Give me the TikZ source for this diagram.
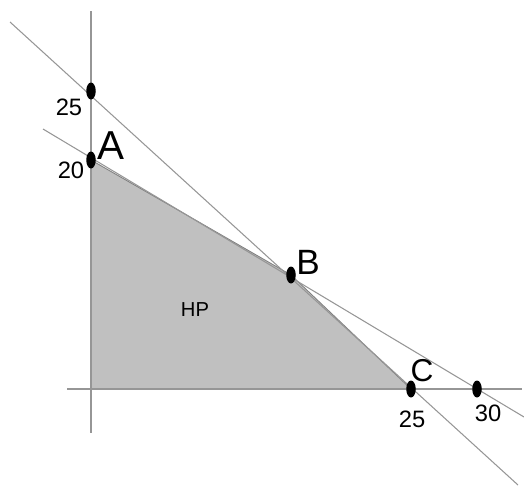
\documentclass[tikz,border=0pt]{standalone}
\usepackage{fontspec}
\setmainfont{Liberation Sans}
\usetikzlibrary{positioning,shapes.geometric}
\definecolor{linegray}{RGB}{150,150,150}
\definecolor{regiongray}{RGB}{192,192,192}

\begin{document}
\begin{tikzpicture}[
            x=0.02cm, y=-0.02cm,
            line/.style={draw=linegray, line width=0.6pt},
            region/.style={fill=regiongray, draw=gray, line width=0.5pt},
            dot/.style={ellipse, fill=black, inner sep=0pt,
                       minimum width=0.19cm, minimum height=0.34cm},
            num/.style={inner sep=0pt, font=\fontsize{13.5}{15}\selectfont},
            corner/.style={inner sep=0pt}
        ]
            \useasboundingbox (0,0) rectangle (524,487);

            % Corner points
            \coordinate (O) at (91,389);
            \coordinate (A) at (91,160);
            \coordinate (B) at (291,275);
            \coordinate (C) at (411,389);
            \coordinate (Y25) at (91,91);
            \coordinate (X30) at (477,389);

            % Free ends of axes and lines
            \coordinate (ytop) at (91,11);
            \coordinate (ybot) at (91,433);
            \coordinate (xleft) at (67,389);
            \coordinate (xright) at (522,389);
            \coordinate (firststart) at (10,22);
            \coordinate (firstend) at (518,485);
            \coordinate (secondstart) at (43,129);
            \coordinate (secondend) at (524,417);

            % Feasible region
            \draw[region] (O) -- (A) -- (B) -- (C) -- cycle;

            % Axes and constraint lines
            \draw[line] (ytop) -- (ybot);
            \draw[line] (xleft) -- (xright);
            \draw[line] (firststart) -- (firstend);
            \draw[line] (secondstart) -- (secondend);

            % Dots
            \node[dot] (Adot) at (A) {};
            \node[dot] (Bdot) at (B) {};
            \node[dot] (Cdot) at (C) {};
            \node[dot] (Y25dot) at (Y25) {};
            \node[dot] (X30dot) at (X30) {};

            % Labels
            \node[corner, font=\fontsize{23}{25}\selectfont] (labA) at (111,146) {A};
            \node[corner, font=\fontsize{20}{22}\selectfont] (labB) at (308,262) {B};
            \node[corner, font=\fontsize{18}{20}\selectfont] (labC) at (422,371) {C};
            \node[num] (numY25) at (69,107) {25};
            \node[num] (numY20) at (71,170) {20};
            \node[num] (numX25) at (412,419) {25};
            \node[num] (numX30) at (488,413) {30};
            \node[inner sep=0pt, font=\fontsize{11.5}{13}\selectfont] (hp) at (195,310) {HP};
        \end{tikzpicture}
\end{document}
